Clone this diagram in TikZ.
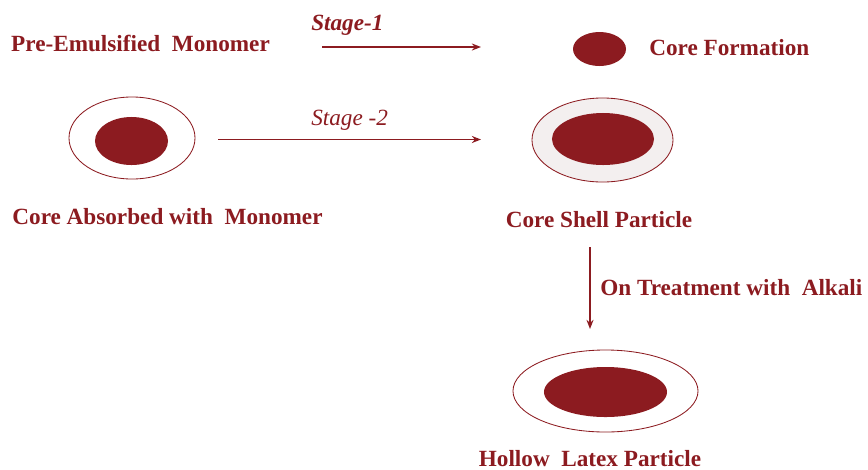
\documentclass[tikz,border=0pt]{standalone}
\usepackage{fontspec}
\setmainfont{Liberation Serif}
\usetikzlibrary{arrows.meta,shapes.geometric}

\definecolor{latexred}{RGB}{140,27,32}
\definecolor{shellgray}{RGB}{243,239,239}

\begin{document}
\begin{tikzpicture}[x=0.025cm,y=-0.025cm,
    lbl/.style={text=latexred, font=\fontsize{16.5}{19}\selectfont\bfseries, inner sep=0pt, anchor=base},
    stagelbl/.style={text=latexred, font=\fontsize{16.5}{19}\selectfont\itshape, inner sep=0pt, anchor=base west},
    core/.style={ellipse, fill=latexred, inner sep=0pt},
    shell/.style={ellipse, draw=latexred, line width=0.6pt, inner sep=0pt},
    flow/.style={draw=latexred, line width=1.3pt, -{Stealth[length=6.5pt,width=5pt]}}]
        \useasboundingbox (0,0) rectangle (868,469);

        % Stage 1: pre-emulsified monomer gives the core
        \node[lbl] (premono) at (140.5,51) {Pre-Emulsified\ \ Monomer};
        \node[core, minimum width=1.325cm, minimum height=0.85cm] (coreform) at (599.5,49) {};
        \node[lbl, anchor=base west] (coreformlbl) at (649,55) {Core Formation};
        \coordinate (s1start) at (322,47);
        \coordinate (s1end) at (481,47);
        \draw[flow] (s1start) -- (s1end);
        \node[stagelbl, font=\fontsize{16.5}{19}\selectfont\bfseries\itshape] (stageone) at (311,30) {Stage-1};

        % Stage 2: core absorbed with monomer gives core shell particle
        \node[shell, minimum width=3.15cm, minimum height=2.05cm] (absshell) at (132,138) {};
        \node[core, minimum width=1.825cm, minimum height=1.2cm] (abscore) at (131.5,141) {};
        \node[lbl] (abslbl) at (167.5,224) {Core Absorbed with\ \ Monomer};
        \node[shell, fill=shellgray, minimum width=3.525cm, minimum height=2.1cm] (csshell) at (602.5,140) {};
        \node[core, minimum width=2.55cm, minimum height=1.3cm] (cscore) at (603,139) {};
        \node[lbl] (cslbl) at (599,227) {Core Shell Particle};
        \coordinate (s2start) at (218,139.5);
        \coordinate (s2end) at (481,139.5);
        \draw[flow] (s2start) -- (s2end);
        \node[stagelbl] (stagetwo) at (311,125) {Stage -2};

        % Alkali treatment gives the hollow particle
        \coordinate (alkstart) at (590,247);
        \coordinate (alkend) at (590,329);
        \draw[flow] (alkstart) -- (alkend);
        \node[lbl, anchor=base west] (alklbl) at (600,295) {On Treatment with\ \ Alkali};
        \node[shell, minimum width=4.625cm, minimum height=2.05cm] (hlshell) at (605.5,391) {};
        \node[core, minimum width=3.075cm, minimum height=1.25cm] (hlcore) at (605.5,392) {};
        \node[lbl] (hllbl) at (590,466) {Hollow\ \ Latex Particle};
    \end{tikzpicture}
\end{document}
